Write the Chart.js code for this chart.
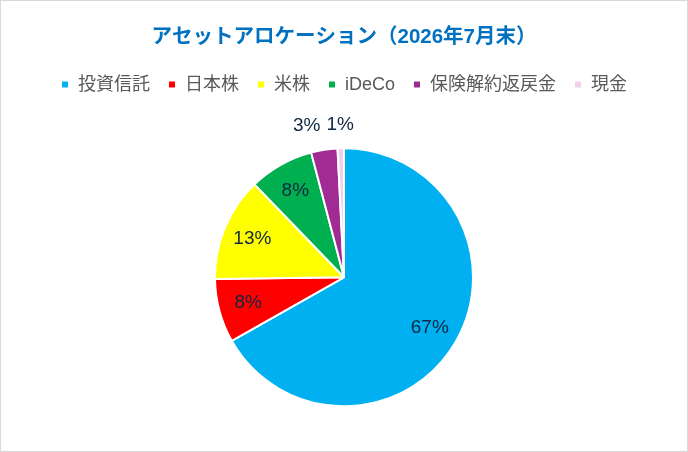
<!DOCTYPE html>
<html><head><meta charset="utf-8">
<script src="https://cdn.jsdelivr.net/npm/chart.js@4.4.1/dist/chart.umd.min.js"></script>
<style>
html,body{margin:0;padding:0;background:#fff;}
#wrap{width:686px;height:450px;border:1px solid #d9d9d9;position:relative;background:#fff;}
canvas{display:block;}
</style></head><body>
<div id="wrap"><canvas id="c" width="686" height="450"></canvas></div>
<script>
const categories = ["投資信託","日本株","米株","iDeCo","保険解約返戻金","現金"];
const values = [66.8, 8.0, 13.0, 8.1, 3.3, 0.8];
const colors = ["#00B0F0","#FF0000","#FFFF00","#00B050","#A02B93","#F2CEEF"];
const titleText = "アセットアロケーション（2026年7月末）";
const FONT = "'Liberation Sans', Arial, 'Noto Sans CJK JP', sans-serif";

const labelPlugin = {
  id: 'pctLabels',
  afterDatasetsDraw(chart) {
    const ctx = chart.ctx;
    const meta = chart.getDatasetMeta(0);
    const total = values.reduce((a,b)=>a+b,0);
    ctx.save();
    ctx.font = "19px " + FONT;
    ctx.fillStyle = "#0E2841";
    ctx.textAlign = "center";
    ctx.textBaseline = "middle";
    const items = [];
    meta.data.forEach((arc, i) => {
      const p = arc.getProps(['x','y','startAngle','endAngle','outerRadius'], true);
      const mid = (p.startAngle + p.endAngle) / 2;
      const pct = values[i] / total * 100;
      const outside = pct < 5;
      const r = outside ? p.outerRadius + 24 : p.outerRadius * 0.77;
      const text = Math.round(pct) + "%";
      items.push({
        text, outside,
        x: p.x + Math.cos(mid) * r,
        y: p.y + Math.sin(mid) * r,
        w: ctx.measureText(text).width
      });
    });
    for (let k = items.length - 1; k > 0; k--) {
      const a = items[k - 1], b = items[k];
      if (!a.outside || !b.outside) continue;
      const need = (a.w + b.w) / 2 + 6;
      if (b.x - a.x < need) a.x = b.x - need;
    }
    items.forEach(it => ctx.fillText(it.text, it.x, it.y));
    ctx.restore();
  }
};

new Chart(document.getElementById('c'), {
  type: 'pie',
  data: {
    labels: categories,
    datasets: [{
      data: values,
      backgroundColor: colors,
      borderColor: '#ffffff',
      borderWidth: 2,
      radius: 129
    }]
  },
  options: {
    responsive: false,
    animation: false,
    layout: { padding: { top: 8, bottom: 0 } },
    plugins: {
      title: {
        display: true,
        text: titleText,
        color: '#0070C0',
        font: { family: FONT, size: 20.5, weight: 'bold' },
        padding: { top: 16, bottom: 8 }
      },
      legend: {
        position: 'top',
        labels: {
          boxWidth: 8,
          boxHeight: 8,
          padding: 18,
          color: '#595959',
          font: { family: FONT, size: 18 }
        }
      },
      tooltip: { enabled: false }
    }
  },
  plugins: [labelPlugin]
});
</script>
</body></html>
